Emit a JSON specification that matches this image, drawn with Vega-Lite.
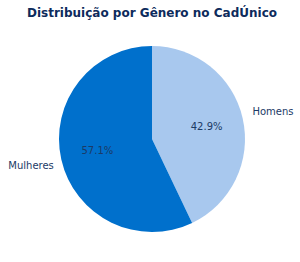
{
  "$schema": "https://vega.github.io/schema/vega-lite/v6.json",
  "autosize": "none",
  "width": 296,
  "height": 218,
  "padding": {"top": 30, "left": 4, "right": 0, "bottom": 0},
  "background": "white",
  "title": {
    "text": "Distribuição por Gênero no CadÚnico",
    "font": "DejaVu Sans",
    "fontSize": 12,
    "fontWeight": "bold",
    "color": "#0d2b5c",
    "anchor": "middle",
    "offset": 10
  },
  "data": {
    "values": [
      {"genero": "Homens", "percentual": 42.9, "rotulo": "42.9%"},
      {"genero": "Mulheres", "percentual": 57.1, "rotulo": "57.1%"}
    ]
  },
  "encoding": {
    "theta": {"field": "percentual", "type": "quantitative", "stack": true},
    "color": {
      "field": "genero",
      "type": "nominal",
      "scale": {"domain": ["Homens", "Mulheres"], "range": ["#a8c8ee", "#0070cc"]},
      "legend": null
    },
    "order": {"field": "genero", "sort": "ascending"}
  },
  "layer": [
    {"mark": {"type": "arc", "outerRadius": 93}},
    {
      "mark": {"type": "text", "radius": 56, "font": "DejaVu Sans", "fontSize": 10, "baseline": "middle", "align": "center"},
      "encoding": {"text": {"field": "rotulo"}, "color": {"value": "#1b3a66"}}
    },
    {
      "mark": {"type": "text", "radius": 124, "font": "DejaVu Sans", "fontSize": 10, "baseline": "middle", "align": "center"},
      "encoding": {"text": {"field": "genero"}, "color": {"value": "#1b3a66"}}
    }
  ]
}
